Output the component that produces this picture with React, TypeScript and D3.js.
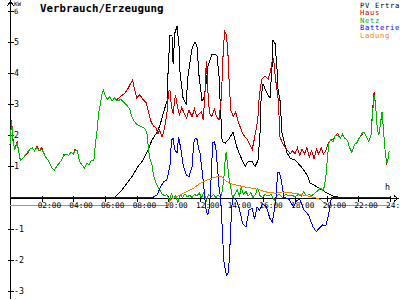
import React from "react";
import * as d3 from "d3";

type P = [number, number];

const hourTicks = [2, 4, 6, 8, 10, 12, 14, 16, 18, 20, 22, 24];
const hourLabels = ["02:00", "04:00", "06:00", "08:00", "10:00", "12:00", "14:00", "16:00", "18:00", "20:00", "22:00", "24:00"];
const kwTicks = [-3, -2, -1, 1, 2, 3, 4, 5, 6];
const legendLabels = ["PV Ertrag", "Haus", "Netz", "Batterie", "Ladung"];
const seriesColors = ["#000000", "#c80000", "#00b400", "#0000ff", "#ff8000"];
const titleText = "Verbrauch/Erzeugung";

// PV Ertrag (black)
const pvKw: P[] = [
  [0, 0], [6.6, 0], [7.0, 0.2], [7.4, 0.47], [7.77, 0.72], [8.02, 0.95], [8.4, 1.2], [8.72, 1.53],
  [8.97, 1.85], [9.29, 2.1], [9.48, 2.33], [9.67, 2.7], [9.92, 3.1], [9.98, 4.0], [10.1, 5.2],
  [10.23, 5.2], [10.3, 4.3], [10.42, 5.3], [10.55, 5.5], [10.68, 4.85], [10.74, 4.0], [10.93, 3.2],
  [11.12, 3.0], [11.24, 3.9], [11.5, 4.8], [11.69, 5.0], [11.81, 4.85], [11.94, 3.9], [12.13, 3.1],
  [12.25, 3.2], [12.38, 3.65], [12.51, 4.25], [12.76, 4.6], [12.95, 4.6], [13.08, 4.55], [13.2, 3.9],
  [13.27, 3.1], [13.4, 1.8], [13.6, 1.75], [13.85, 1.9], [14.09, 2.1], [14.34, 1.6], [14.53, 1.35],
  [14.85, 1.0], [15.03, 1.15], [15.29, 1.15], [15.48, 1.0], [15.67, 1.2], [15.79, 2.07], [15.86, 3.2],
  [15.98, 3.65], [16.23, 3.35], [16.42, 3.2], [16.55, 4.2], [16.61, 5.05], [16.74, 4.95], [16.87, 4.1],
  [16.93, 3.45], [17.06, 3.1], [17.18, 2.07], [17.5, 1.43], [17.69, 1.27], [18.0, 1.2], [18.19, 1.1],
  [18.45, 0.95], [18.64, 0.82], [18.83, 0.66], [18.95, 0.47], [19.39, 0.34], [19.71, 0.24],
  [20.03, 0.14], [20.4, 0.05], [20.85, 0], [24, 0],
];

// Haus (red)
const hausKw: P[] = [
  [0, 1.7], [0.1, 2.5], [0.2, 1.8], [0.3, 1.55], [0.45, 1.8], [0.55, 1.5], [0.65, 1.2], [0.8, 1.25],
  [0.95, 1.35], [1.1, 1.4], [1.25, 1.55], [1.4, 1.6], [1.55, 1.5], [1.7, 1.65], [1.85, 1.5], [2.0, 1.6],
  [2.1, 1.47], [2.25, 1.3], [2.4, 1.2], [2.55, 1.05], [2.65, 0.95], [2.8, 0.88], [2.95, 1.0], [3.1, 1.1],
  [3.25, 1.2], [3.4, 1.37], [3.55, 1.4], [3.7, 1.35], [3.85, 1.45], [4.0, 1.4], [4.1, 1.55], [4.25, 1.5],
  [4.4, 1.15], [4.55, 1.05], [4.7, 0.95], [4.85, 1.1], [5.0, 1.05], [5.15, 1.2], [5.3, 1.2], [5.4, 1.75],
  [5.5, 2.17], [5.6, 2.7], [5.7, 3.0], [5.8, 3.3], [5.9, 3.45], [6.0, 3.3], [6.15, 3.15], [6.3, 3.25],
  [6.45, 3.1], [6.6, 3.2], [6.75, 3.15], [7.0, 3.25], [7.25, 3.35], [7.45, 3.5], [7.6, 3.65],
  [7.75, 3.78], [7.85, 3.5], [8.0, 3.2], [8.2, 3.3], [8.4, 3.15], [8.6, 3.05], [8.75, 2.75],
  [8.9, 2.45], [9.05, 2.3], [9.2, 2.25], [9.35, 2.05], [9.45, 2.17], [9.6, 1.95], [9.7, 2.1],
  [9.85, 2.5], [9.95, 2.85], [10.0, 3.4], [10.1, 3.45], [10.2, 2.9], [10.3, 2.7], [10.45, 3.3],
  [10.55, 3.0], [10.7, 2.65], [10.85, 2.9], [11.0, 2.7], [11.15, 2.55], [11.3, 2.8], [11.5, 2.6],
  [11.65, 2.85], [11.8, 2.6], [11.95, 2.7], [12.1, 2.75], [12.2, 2.5], [12.3, 3.2], [12.4, 4.4],
  [12.5, 3.4], [12.6, 2.7], [12.75, 2.6], [12.9, 2.85], [13.05, 2.6], [13.2, 2.5], [13.35, 3.2],
  [13.45, 4.5], [13.55, 5.35], [13.65, 5.25], [13.75, 4.8], [13.85, 3.6], [13.95, 2.8], [14.1, 2.6],
  [14.25, 2.75], [14.4, 2.45], [14.55, 2.25], [14.7, 2.05], [14.85, 1.95], [15.0, 1.85], [15.15, 1.7],
  [15.3, 1.55], [15.4, 1.8], [15.55, 2.2], [15.65, 2.5], [15.75, 3.3], [15.9, 3.8], [16.1, 3.9],
  [16.3, 3.8], [16.45, 4.05], [16.55, 4.35], [16.65, 4.45], [16.75, 3.9], [16.85, 3.5], [16.95, 3.1],
  [17.05, 1.95], [17.2, 1.75], [17.4, 1.6], [17.55, 1.5], [17.7, 1.4], [17.85, 1.5], [18.0, 1.4],
  [18.15, 1.6], [18.3, 1.35], [18.45, 1.55], [18.6, 1.4], [18.75, 1.6], [18.9, 1.3], [19.05, 1.5],
  [19.2, 1.25], [19.35, 1.55], [19.5, 1.4], [19.65, 1.6], [19.8, 1.4], [19.95, 1.5], [20.1, 1.75],
  [20.25, 1.85], [20.4, 1.85], [20.55, 2.0], [20.7, 2.05], [20.85, 1.9], [21.0, 2.0], [21.15, 1.9],
  [21.3, 1.85], [21.45, 1.6], [21.6, 1.45], [21.75, 1.7], [21.9, 1.75], [22.05, 1.9], [22.2, 2.0],
  [22.35, 2.1], [22.5, 1.95], [22.65, 1.8], [22.8, 2.0], [22.9, 2.8], [23.0, 3.4], [23.1, 2.9],
  [23.2, 2.2], [23.3, 2.0], [23.4, 2.4], [23.5, 2.7], [23.6, 2.1], [23.7, 1.45], [23.8, 1.05],
];

// Netz (green)
const netzKw: P[] = [
  [0, 1.7], [0.1, 2.45], [0.2, 1.75], [0.3, 1.55], [0.45, 1.75], [0.55, 1.5], [0.65, 1.2], [0.8, 1.25],
  [0.95, 1.35], [1.1, 1.45], [1.25, 1.55], [1.4, 1.6], [1.55, 1.5], [1.7, 1.6], [1.85, 1.5], [2.0, 1.55],
  [2.1, 1.47], [2.25, 1.3], [2.4, 1.2], [2.55, 1.05], [2.65, 0.95], [2.8, 0.88], [2.95, 1.0], [3.1, 1.1],
  [3.25, 1.2], [3.4, 1.35], [3.55, 1.4], [3.7, 1.35], [3.85, 1.45], [4.0, 1.4], [4.1, 1.5], [4.25, 1.5],
  [4.4, 1.15], [4.55, 1.05], [4.7, 0.95], [4.85, 1.1], [5.0, 1.05], [5.15, 1.2], [5.3, 1.2], [5.4, 1.75],
  [5.5, 2.17], [5.6, 2.7], [5.7, 3.0], [5.8, 3.3], [5.9, 3.45], [6.0, 3.3], [6.15, 3.15], [6.3, 3.25],
  [6.45, 3.1], [6.6, 3.2], [6.75, 3.1], [7.0, 3.15], [7.2, 3.05], [7.4, 2.95], [7.55, 2.85], [7.7, 2.6],
  [7.85, 2.45], [8.0, 2.35], [8.2, 2.3], [8.4, 2.25], [8.55, 2.2], [8.65, 2.05], [8.75, 1.55],
  [8.85, 1.2], [8.95, 1.1], [9.05, 0.75], [9.15, 0.56], [9.3, 0.38], [9.45, 0.25], [9.6, 0.12],
  [9.75, 0.05], [9.9, 0.1], [10.0, 0.0], [10.1, -0.1], [10.2, 0.15], [10.3, -0.05], [10.45, 0.05],
  [10.6, -0.15], [10.75, 0.1], [10.9, 0.0], [11.05, 0.12], [11.2, 0.02], [11.35, 0.08], [11.5, 0.0],
  [11.65, 0.1], [11.8, 0.05], [11.95, 0.15], [12.1, 0.0], [12.25, 0.18], [12.4, -0.1], [12.55, 0.1],
  [12.7, 0.02], [12.85, 0.1], [13.0, 0.0], [13.15, 0.08], [13.3, 0.0], [13.4, 0.2], [13.5, 0.56],
  [13.6, 1.3], [13.65, 1.45], [13.75, 1.0], [13.85, 0.56], [13.95, 0.3], [14.05, 0.0], [14.2, 0.1],
  [14.35, 0.24], [14.5, 0.05], [14.6, 0.34], [14.75, 0.1], [14.9, 0.2], [15.05, 0.05], [15.2, 0.15],
  [15.35, 0.0], [15.5, 0.1], [15.65, 0.3], [15.8, 0.05], [15.95, 0.0], [16.1, 0.1], [16.3, 0.05],
  [16.5, 0.1], [16.7, -0.1], [16.85, 0.05], [17.0, 0.1], [17.2, 0.0], [17.4, 0.1], [17.6, 0.05],
  [17.8, 0.08], [18.0, 0.02], [18.2, 0.1], [18.4, 0.05], [18.55, 0.18], [18.7, 0.05], [18.9, 0.1],
  [19.05, 0.05], [19.2, 0.12], [19.4, 0.2], [19.6, 0.3], [19.75, 0.24], [19.85, 0.34], [19.95, 0.66],
  [20.05, 1.3], [20.15, 1.75], [20.25, 1.85], [20.4, 1.8], [20.55, 2.0], [20.7, 2.0], [20.85, 1.9],
  [21.0, 2.05], [21.15, 1.9], [21.3, 1.85], [21.45, 1.6], [21.6, 1.45], [21.75, 1.7], [21.9, 1.75],
  [22.05, 1.9], [22.2, 2.05], [22.35, 2.1], [22.5, 1.95], [22.65, 1.8], [22.8, 2.0], [22.9, 2.7],
  [23.0, 3.3], [23.1, 2.9], [23.2, 2.2], [23.3, 2.0], [23.4, 2.4], [23.5, 2.75], [23.6, 2.1],
  [23.7, 1.45], [23.8, 1.1], [23.9, 1.3], [23.95, 1.5],
];

// Batterie (blue)
const batterieKw: P[] = [
  [0, 0], [9.0, 0], [9.3, 0.08], [9.5, 0.34], [9.7, 0.5], [9.9, 0.56], [10.1, 1.0], [10.2, 1.85],
  [10.3, 1.9], [10.4, 1.53], [10.55, 1.43], [10.65, 1.95], [10.8, 1.53], [10.95, 1.0], [11.15, 0.72],
  [11.3, 0.66], [11.5, 1.0], [11.6, 1.75], [11.7, 1.9], [11.8, 1.9], [11.9, 1.6], [12.0, 1.43],
  [12.1, 1.0], [12.2, 0.56], [12.3, 0], [12.4, -0.45], [12.5, -0.55], [12.6, -0.3], [12.7, 0.6],
  [12.8, 1.75], [12.9, 1.8], [13.0, 1.6], [13.1, 1.0], [13.2, 0.34], [13.3, 0], [13.4, -0.95],
  [13.5, -2.0], [13.6, -2.35], [13.7, -2.5], [13.8, -2.4], [13.9, -1.47], [14.0, -0.3], [14.1, 0],
  [14.3, -0.1], [14.5, -0.4], [14.7, -0.85], [14.9, -0.95], [15.1, -0.4], [15.3, -0.35], [15.45, -0.7],
  [15.6, -0.3], [15.75, -0.4], [15.95, -0.2], [16.2, -0.3], [16.4, -0.65], [16.55, -0.8], [16.65, -0.55],
  [16.8, 0], [16.9, 0.8], [17.0, 0.8], [17.1, 0.66], [17.2, 0.34], [17.3, 0], [17.6, -0.05],
  [17.9, -0.3], [18.1, -0.1], [18.3, -0.05], [18.55, -0.4], [18.75, -0.5], [18.9, -0.6], [19.0, -0.78],
  [19.15, -0.95], [19.35, -1.1], [19.5, -1.0], [19.75, -0.88], [19.95, -0.9], [20.1, -0.6],
  [20.2, -0.3], [20.3, 0], [24, 0],
];

// Ladung (orange)
const ladungKw: P[] = [
  [0, -0.25], [10.0, -0.25], [10.1, -0.1], [10.4, 0.0], [10.8, 0.1], [11.2, 0.2], [11.6, 0.3],
  [12.0, 0.45], [12.4, 0.55], [12.8, 0.63], [13.2, 0.68], [13.4, 0.66], [13.6, 0.55], [13.9, 0.45],
  [14.3, 0.4], [14.8, 0.34], [15.3, 0.3], [15.8, 0.24], [16.3, 0.16], [16.8, 0.14], [17.2, 0.18],
  [17.7, 0.15], [18.2, 0.12], [18.7, 0.06], [19.2, 0.0], [19.6, -0.06], [19.9, -0.2], [20.1, -0.25],
  [24, -0.25],
];

const seriesData = [pvKw, hausKw, netzKw, batterieKw, ladungKw];

const W = 400;
const H = 300;
const mono = "'DejaVu Sans Mono', monospace";

export default function App() {
  const x = d3.scaleLinear().domain([0, 24]).range([10, 390]);
  const y = d3.scaleLinear().domain([0, 6]).range([197.5, 10.8]);
  const line = d3
    .line<P>()
    .x((d) => x(d[0]))
    .y((d) => y(d[1]));

  const x0 = x(0);
  const y0 = Math.round(y(0)) + 0.5;
  const axisX = Math.round(x0) + 0.5;

  return (
    <svg
      width={W}
      height={H}
      viewBox={`0 0 ${W} ${H}`}
      style={{ position: "absolute", left: 0, top: 0, background: "#ffffff" }}
    >
      <rect x={0} y={0} width={W} height={H} fill="#ffffff" />
      {/* axes */}
      <g stroke="#000" strokeWidth={1} shapeRendering="crispEdges" fill="none">
        <line x1={axisX} y1={1} x2={axisX} y2={299} />
        <path d={`M${axisX - 3},6 L${axisX},1 L${axisX + 3},6`} />
        <line x1={axisX} y1={y0} x2={398} y2={y0} />
        <path d={`M394,${y0 - 3} L398,${y0} L394,${y0 + 3}`} />
        {kwTicks.map((t) => (
          <line key={"yt" + t} x1={axisX - 3} x2={axisX + 3} y1={Math.round(y(t)) + 0.5} y2={Math.round(y(t)) + 0.5} />
        ))}
        {hourTicks.map((t) => (
          <line key={"xt" + t} x1={Math.round(x(t)) + 0.5} x2={Math.round(x(t)) + 0.5} y1={y0 - 3} y2={y0 + 3} />
        ))}
      </g>
      {/* series */}
      <g fill="none" strokeWidth={1} shapeRendering="crispEdges">
        {seriesData.map((s, i) => (
          <path key={"s" + i} d={line(s) || ""} stroke={seriesColors[i]} />
        ))}
      </g>
      {/* tick labels */}
      <g fontFamily={mono} fill="#000">
        {kwTicks.map((t) => (
          <text key={"yl" + t} x={14} y={y(t) + (t === 6 ? 3.5 : 3)} fontSize={t === 6 ? 7.2 : 8.3}>
            {t < 0 ? "-" + Math.abs(t) : String(t)}
          </text>
        ))}
        {hourTicks.map((t, i) => (
          <text key={"xl" + t} x={x(t) - 4} y={207.5} fontSize={7.8}>
            {hourLabels[i]}
          </text>
        ))}
        <text x={14} y={6} fontSize={5.8}>KW</text>
        <text x={385} y={190} fontSize={8.3}>h</text>
        <text x={40} y={11.5} fontSize={10.8} fontWeight="bold">{titleText}</text>
      </g>
      {/* legend */}
      <g fontFamily={mono} fontSize={7.2} letterSpacing={0.66}>
        {legendLabels.map((l, i) => (
          <text key={"lg" + i} x={360} y={7.5 + i * 7.5} fill={seriesColors[i]}>
            {l}
          </text>
        ))}
      </g>
    </svg>
  );
}
